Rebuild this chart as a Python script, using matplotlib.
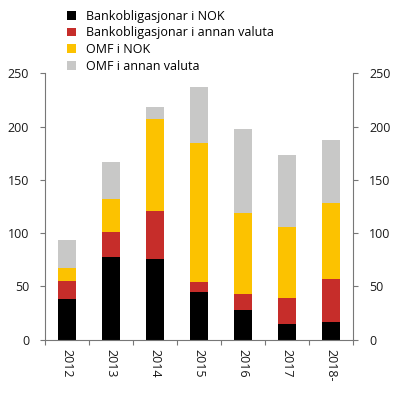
import matplotlib
matplotlib.use("Agg")
import matplotlib.pyplot as plt
from matplotlib.patches import Patch
import numpy as np

plt.rcParams['font.family'] = ['Open Sans', 'DejaVu Sans']

categories = ["2012", "2013", "2014", "2015", "2016", "2017", "2018-"]
bank_nok = [38.5, 77.9, 75.4, 44.8, 27.9, 15.0, 16.6]
bank_other = [16.9, 23.1, 45.1, 9.7, 15.3, 24.1, 40.4]
omf_nok = [11.9, 31.0, 86.3, 129.8, 75.7, 66.7, 71.6]
omf_other = [26.5, 34.8, 11.6, 52.6, 78.5, 67.5, 59.1]
series_names = ["Bankobligasjonar i NOK", "Bankobligasjonar i annan valuta",
                "OMF i NOK", "OMF i annan valuta"]
colors = ["#000000", "#c62d2a", "#fcc200", "#c8c8c7"]
yticks = [0, 50, 100, 150, 200, 250]

fig = plt.figure(figsize=(4.0, 3.95), dpi=100)
ax = fig.add_axes([0.1125, 0.14, 0.77, 0.6745])

x = np.arange(len(categories))
bottom = np.zeros(len(categories))
for vals, c in zip([bank_nok, bank_other, omf_nok, omf_other], colors):
    ax.bar(x, vals, width=0.4, bottom=bottom, color=c, linewidth=0)
    bottom += np.array(vals)

ax.set_xlim(-0.5, len(categories) - 0.5)
ax.set_ylim(0, 250)
ax.set_yticks(yticks)
ax.set_xticks(x)
ax.set_xticklabels(categories, rotation=-90, fontsize=9, color="#1a1a1a")
ax.set_xticks(np.arange(len(categories) + 1) - 0.5, minor=True)
ax.tick_params(axis='x', which='major', length=0, pad=7)
ax.tick_params(axis='x', which='minor', length=3.5, width=0.8, color="#777777", direction='out')
ax.tick_params(axis='y', length=3.5, width=0.8, color="#777777", direction='out',
               labelsize=9, labelcolor="#1a1a1a", pad=8, labelright=True, right=True)

for s in ["left", "right", "bottom"]:
    ax.spines[s].set_color("#777777")
    ax.spines[s].set_linewidth(0.8)
ax.spines["top"].set_visible(False)

handles = [Patch(facecolor=c, edgecolor='none') for c in colors]
fig.legend(handles, series_names, loc="upper left", bbox_to_anchor=(0.158, 0.985),
           frameon=False, fontsize=9, handlelength=0.7, handleheight=0.7,
           handletextpad=0.8, labelspacing=0.3, borderaxespad=0, borderpad=0.3)

fig.savefig("out.png", dpi=100)
